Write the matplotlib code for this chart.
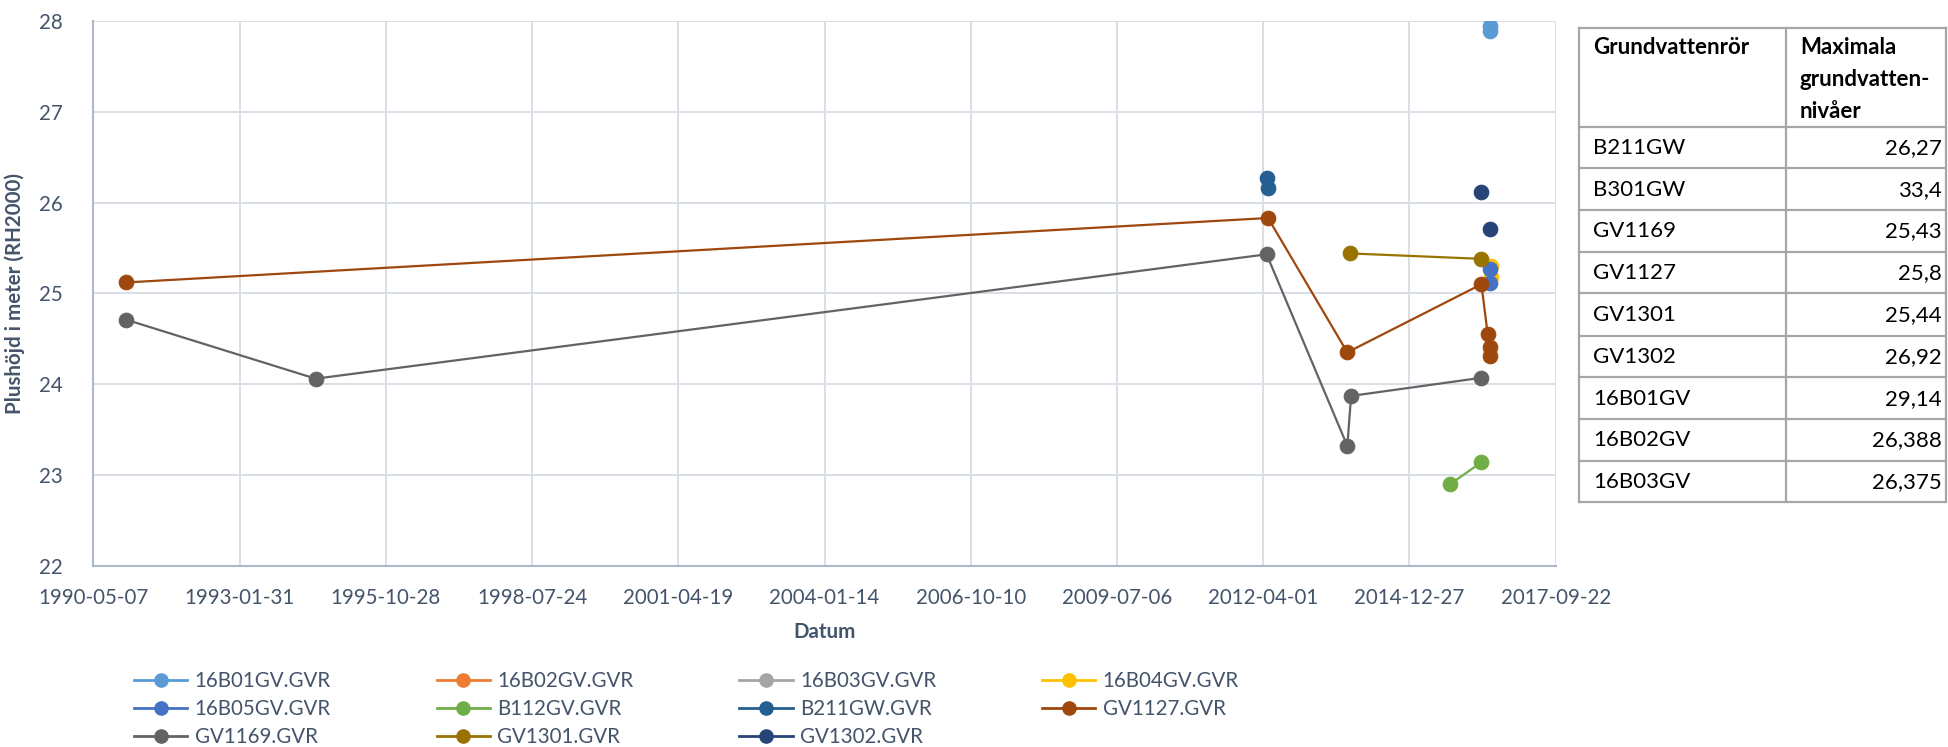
import matplotlib
matplotlib.use("Agg")
import matplotlib.pyplot as plt
import matplotlib.dates as mdates
from matplotlib.lines import Line2D
import datetime as dt

plt.rcParams['font.family'] = ['Lato', 'DejaVu Sans']

# ---------------- data ----------------
s_16B01_dates = ["2016-06-27", "2016-06-28"]
s_16B01_vals = [27.94, 27.89]
s_16B02_dates = []
s_16B02_vals = []
s_16B03_dates = []
s_16B03_vals = []
s_16B04_dates = ["2016-07-06", "2016-07-06"]
s_16B04_vals = [25.30, 25.18]
s_16B05_dates = ["2016-07-02", "2016-07-02"]
s_16B05_vals = [25.27, 25.11]
s_B112_dates = ["2015-10-03", "2016-05-02"]
s_B112_vals = [22.90, 23.14]
s_B211_dates = ["2012-04-24", "2012-05-04"]
s_B211_vals = [26.27, 26.16]
s_GV1127_dates = ["1990-12-17", "2012-05-04", "2013-10-28", "2016-05-02",
                  "2016-06-14", "2016-06-27", "2016-07-02"]
s_GV1127_vals = [25.12, 25.83, 24.35, 25.10, 24.55, 24.31, 24.41]
s_GV1169_dates = ["1990-12-17", "1994-07-05", "2012-04-24", "2013-10-28",
                  "2013-11-23", "2016-05-02"]
s_GV1169_vals = [24.71, 24.06, 25.43, 23.32, 23.87, 24.07]
s_GV1301_dates = ["2013-11-13", "2016-05-02"]
s_GV1301_vals = [25.44, 25.38]
s_GV1302_dates = ["2016-05-02", "2016-07-02"]
s_GV1302_vals = [26.12, 25.71]

series_names = ["16B01GV.GVR", "16B02GV.GVR", "16B03GV.GVR", "16B04GV.GVR",
                "16B05GV.GVR", "B112GV.GVR", "B211GW.GVR", "GV1127.GVR",
                "GV1169.GVR", "GV1301.GVR", "GV1302.GVR"]
series_dates = [s_16B01_dates, s_16B02_dates, s_16B03_dates, s_16B04_dates,
                s_16B05_dates, s_B112_dates, s_B211_dates, s_GV1127_dates,
                s_GV1169_dates, s_GV1301_dates, s_GV1302_dates]
series_vals = [s_16B01_vals, s_16B02_vals, s_16B03_vals, s_16B04_vals,
               s_16B05_vals, s_B112_vals, s_B211_vals, s_GV1127_vals,
               s_GV1169_vals, s_GV1301_vals, s_GV1302_vals]
series_connected = [False, False, False, False, False, True, False, True,
                    True, True, False]
series_colors = ["#5B9BD5", "#ED7D31", "#A5A5A5", "#FFC000", "#4472C4",
                 "#70AD47", "#255E91", "#9E480E", "#636363", "#997300",
                 "#264478"]

table_header_col1 = "Grundvattenrör"
table_header_col2 = ["Maximala", "grundvatten-", "nivåer"]
table_names = ["B211GW", "B301GW", "GV1169", "GV1127", "GV1301", "GV1302",
               "16B01GV", "16B02GV", "16B03GV"]
table_values = ["26,27", "33,4", "25,43", "25,8", "25,44", "26,92", "29,14",
                "26,388", "26,375"]

x_start = "1990-05-07"
x_end = "2017-09-22"
x_step_days = 1000
y_min, y_max = 22, 28

# ---------------- figure ----------------
W, H = 1948, 747
fig = plt.figure(figsize=(W / 100, H / 100), dpi=100)
L, R, T, B = 93.3, 1555.7, 21.0, 565.7
ax = fig.add_axes([L / W, 1 - B / H, (R - L) / W, (B - T) / H])

txt_col = "#44546A"
grid_col = "#D9DEE7"
axis_col = "#ADB9CA"

def to_dt(s):
    return dt.datetime.strptime(s, "%Y-%m-%d")

for name, ds, vs, conn, col in zip(series_names, series_dates, series_vals,
                                   series_connected, series_colors):
    if not ds:
        continue
    xs = [to_dt(d) for d in ds]
    ax.plot(xs, vs, linestyle='-' if conn else 'none', color=col, lw=1.6,
            marker='o', ms=10.5, mfc=col, mec=col, mew=0.8, zorder=3)

x0 = to_dt(x_start)
x1 = to_dt(x_end)
ax.set_xlim(x0, x1)
ax.set_ylim(y_min, y_max)
ticks = []
t = x0
while t <= x1:
    ticks.append(t)
    t = t + dt.timedelta(days=x_step_days)
ax.set_xticks(ticks)
ax.xaxis.set_major_formatter(mdates.DateFormatter("%Y-%m-%d"))
ax.set_yticks(range(y_min, y_max + 1))

ax.grid(True, color=grid_col, lw=1.4, zorder=0)
ax.set_axisbelow(True)
for sp in ["top", "right"]:
    ax.spines[sp].set_visible(False)
for sp in ["left", "bottom"]:
    ax.spines[sp].set_color(axis_col)
    ax.spines[sp].set_linewidth(1.5)
ax.tick_params(axis='both', length=0, labelsize=14.8, labelcolor=txt_col)
ax.tick_params(axis='x', pad=16)
ax.tick_params(axis='y', pad=22)

ax.set_xlabel("Datum", fontsize=14.8, fontweight='bold', color=txt_col,
              labelpad=10)
ax.set_ylabel("Plushöjd i meter (RH2000)", fontsize=14.8, fontweight='bold',
              color=txt_col)
ax.yaxis.set_label_coords((25 - L) / (R - L), 0.5)

# legend (row-major order like Excel)
handles = []
for name, col in zip(series_names, series_colors):
    handles.append(Line2D([], [], color=col, lw=2, marker='o', ms=9.5,
                          mfc=col, mec=col, label=name))
order = [0, 4, 8, 1, 5, 9, 2, 6, 10, 3, 7]
hs = [handles[i] for i in order]
leg = fig.legend(handles=hs, labels=[h.get_label() for h in hs], ncol=4,
                 loc='upper left', bbox_to_anchor=(134 / W, 1 - 671 / H),
                 frameon=False, fontsize=14.8, handlelength=2.6,
                 handletextpad=0.35, columnspacing=5.15, labelspacing=0.4,
                 borderpad=0, borderaxespad=0)
for tx in leg.get_texts():
    tx.set_color(txt_col)

# table
tb_left, tb_mid, tb_right = 1579, 1786, 1946
row_y = [28.3, 126.7, 168.3, 210, 251.7, 293.3, 335.7, 377.3, 419, 461, 502.3]
border_col = "#A6A6A6"
def hline(y, x0p, x1p):
    fig.add_artist(Line2D([x0p / W, x1p / W], [1 - y / H, 1 - y / H],
                          color=border_col, lw=1.6))
def vline(x, y0p, y1p):
    fig.add_artist(Line2D([x / W, x / W], [1 - y0p / H, 1 - y1p / H],
                          color=border_col, lw=1.6))
for y in row_y:
    hline(y, tb_left, tb_right)
for x in (tb_left, tb_mid, tb_right):
    vline(x, row_y[0], row_y[-1])

fig.text(1593 / W, 1 - 54 / H, table_header_col1, fontsize=16,
         fontweight='bold', ha='left', va='baseline', color='black')
for k, line in enumerate(table_header_col2):
    fig.text(1800 / W, 1 - (54 + 32 * k) / H, line, fontsize=16,
             fontweight='bold', ha='left', va='baseline', color='black')
for i, (n, v) in enumerate(zip(table_names, table_values)):
    yc = (row_y[i + 1] + row_y[i + 2]) / 2 - 1.5
    fig.text(1593 / W, 1 - yc / H, n, fontsize=16, ha='left',
             va='center_baseline', color='black')
    fig.text(1942 / W, 1 - yc / H, v, fontsize=16, ha='right',
             va='center_baseline', color='black')

fig.savefig("out.png", dpi=100)
